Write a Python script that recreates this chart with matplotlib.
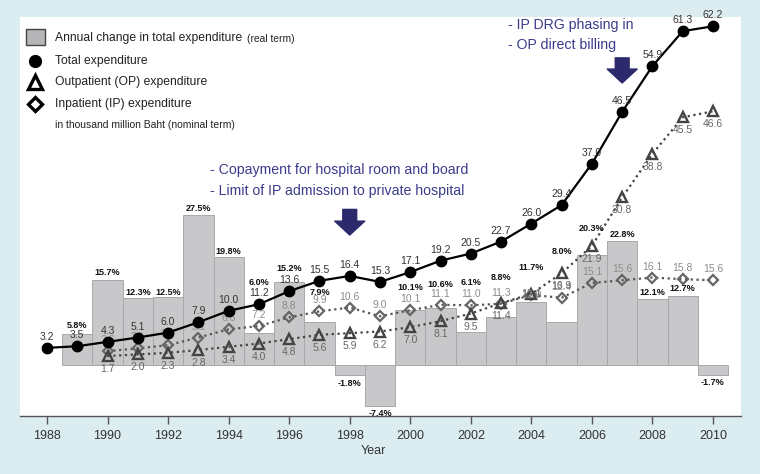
import matplotlib
matplotlib.use("Agg")
import matplotlib.pyplot as plt
from matplotlib.lines import Line2D
from matplotlib.patches import Rectangle

plt.rcParams['font.family'] = ['Liberation Sans', 'DejaVu Sans']

# ---------------- data ----------------
years = list(range(1988, 2011))
total = [3.2, 3.5, 4.3, 5.1, 6.0, 7.9, 10.0, 11.2, 13.6, 15.5, 16.4, 15.3,
         17.1, 19.2, 20.5, 22.7, 26.0, 29.4, 37.0, 46.5, 54.9, 61.3, 62.2]
years_sub = list(range(1990, 2011))
op = [1.7, 2.0, 2.3, 2.8, 3.4, 4.0, 4.8, 5.6, 5.9, 6.2, 7.0, 8.1, 9.5, 11.4,
      13.1, 16.9, 21.9, 30.8, 38.8, 45.5, 46.6]
ip = [2.6, 3.1, 3.7, 5.1, 6.6, 7.2, 8.8, 9.9, 10.6, 9.0, 10.1, 11.1, 11.0,
      11.3, 12.9, 12.4, 15.1, 15.6, 16.1, 15.8, 15.6]
years_pct = list(range(1989, 2011))
pct = [5.8, 15.7, 12.3, 12.5, 27.5, 19.8, 6.0, 15.2, 7.9, -1.8, -7.4, 10.1,
       10.6, 6.1, 8.8, 11.7, 8.0, 20.3, 22.8, 12.1, 12.7, -1.7]
tick_years = list(range(1988, 2011, 2))

# label offsets (pixels) for percent labels, from bar end
pct_offsets = [8, 7, 6, 5, 7, 6, 50, 14, 30, -8, -8, 23, 23, 50, 40, 34, 70,
               26, 7, 7, 8, -8]

W, H = 760, 474
fig = plt.figure(figsize=(W / 100, H / 100), dpi=100)
fig.patch.set_facecolor('#dcedf1')

def fx(x):
    return x / W

def fy(y):
    return 1 - y / H

ax = fig.add_axes([fx(20), fy(416), (741 - 20) / W, (416 - 17) / H])
ax.set_facecolor('white')
ax.set_xlim(1987.108, 2010.925)
ax.set_ylim(-9.3, 63.9)

# bars
ax.bar(years_pct, pct, width=1.0, color='#c8c8ca', edgecolor='#a9a9ab',
       linewidth=0.7, zorder=1)

# lines
dot = (0, (1, 1.6))
ax.plot(years_sub, ip, linestyle=dot, color='#555555', lw=1.6, marker='D',
        ms=5.5, mfc='none', mec='#666666', mew=1.6, zorder=3)
ax.plot(years_sub, op, linestyle=dot, color='#444444', lw=1.6, marker='^',
        ms=6.5, mfc='none', mec='#444444', mew=1.7, zorder=3)
ax.plot(years, total, color='black', lw=1.6, marker='o', ms=7.5,
        mfc='black', mec='black', zorder=6)

# value labels
for x, v in zip(years_sub, ip):
    off = 0 if x == 2004 else 11
    ax.annotate(f'{v:.1f}', (x, v), xytext=(0, off), textcoords='offset pixels',
                ha='center', va='center', fontsize=7.5, color='#8c8c8c', zorder=4)
for x, v in zip(years_sub, op):
    off = 0 if x == 2004 else -13
    ax.annotate(f'{v:.1f}', (x, v), xytext=(0, off), textcoords='offset pixels',
                ha='center', va='center', fontsize=7.5, color='#666666', zorder=4)
for x, v in zip(years, total):
    ax.annotate(f'{v:.1f}', (x, v), xytext=(0, 11), textcoords='offset pixels',
                ha='center', va='center', fontsize=7.5, color='#333333', zorder=7)
for x, v, o in zip(years_pct, pct, pct_offsets):
    ax.annotate(f'{v:.1f}%', (x, v), xytext=(0, o), textcoords='offset pixels',
                ha='center', va='center', fontsize=6.5, fontweight='bold',
                color='#111111', zorder=7)

# axis styling
for s in ['left', 'right', 'top']:
    ax.spines[s].set_visible(False)
ax.spines['bottom'].set_color('#555555')
ax.spines['bottom'].set_linewidth(1.0)
ax.set_yticks([])
ax.set_xticks(tick_years)
ax.set_xticklabels([str(y) for y in tick_years])
ax.tick_params(axis='x', length=6, width=1, color='#555555', labelsize=9,
               labelcolor='#333333', pad=4)
fig.text(fx(373), fy(451), 'Year', ha='center', va='center', fontsize=9,
         color='#333333')

# policy annotations
tcol = '#3c3c8c'
acol = '#2c2a6c'
afs = 10.2
ax.text(1993.38, 35.9, '- Copayment for hospital room and board', fontsize=afs,
        color=tcol, ha='left', va='center', zorder=8)
ax.text(1993.38, 31.9, '- Limit of IP admission to private hospital', fontsize=afs,
        color=tcol, ha='left', va='center', zorder=8)
ax.text(2003.23, 62.5, '- IP DRG phasing in', fontsize=afs, color=tcol,
        ha='left', va='center', zorder=8)
ax.text(2003.23, 58.8, '- OP direct billing', fontsize=afs, color=tcol,
        ha='left', va='center', zorder=8)
arrow_style = 'simple,tail_width=0.5,head_width=1.08,head_length=0.5'
for x, y0, y1 in [(1998, 28.6, 23.9), (2007, 56.4, 51.8)]:
    ax.annotate('', xy=(x, y1), xytext=(x, y0),
                arrowprops=dict(arrowstyle=arrow_style, color=acol,
                                mutation_scale=20, shrinkA=0, shrinkB=0),
                zorder=8)

# legend (manual)
fig.add_artist(Rectangle((fx(26), fy(45)), 19 / W, 16 / H, facecolor='#b5b5b8',
                         edgecolor='#444444', lw=1.0, transform=fig.transFigure))
fig.add_artist(Line2D([fx(35)], [fy(61)], marker='o', ms=8.5, color='black',
                      transform=fig.transFigure))
fig.add_artist(Line2D([fx(35)], [fy(82)], marker='^', ms=9.5, mfc='none',
                      mec='black', mew=2.4, transform=fig.transFigure))
fig.add_artist(Line2D([fx(35)], [fy(104)], marker='D', ms=7.5, mfc='none',
                      mec='black', mew=2.4, transform=fig.transFigure))
lx = fx(55)
lfs = 8.7
fig.text(lx, fy(38), 'Annual change in total expenditure', fontsize=lfs,
         color='#222222', ha='left', va='center')
fig.text(fx(247), fy(38.5), '(real term)', fontsize=7.4, color='#222222',
         ha='left', va='center')
fig.text(lx, fy(61), 'Total expenditure', fontsize=lfs, color='#222222',
         ha='left', va='center')
fig.text(lx, fy(82), 'Outpatient (OP) expenditure', fontsize=lfs, color='#222222',
         ha='left', va='center')
fig.text(lx, fy(104), 'Inpatient (IP) expenditure', fontsize=lfs, color='#222222',
         ha='left', va='center')
fig.text(lx, fy(125), 'in thousand million Baht (nominal term)', fontsize=7.5,
         color='#222222', ha='left', va='center')

fig.savefig('out.png', dpi=100, facecolor=fig.get_facecolor())
